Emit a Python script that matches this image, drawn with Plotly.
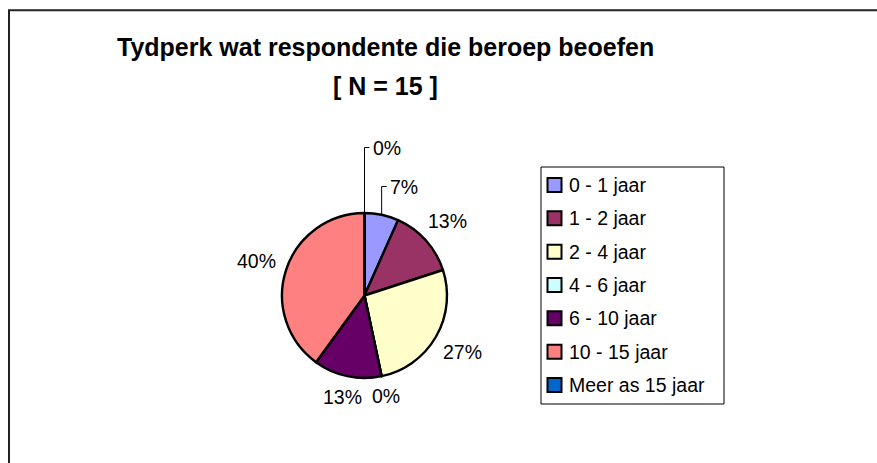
import math
import plotly.graph_objects as go

# ---------------- data ----------------
categories = ["0 - 1 jaar", "1 - 2 jaar", "2 - 4 jaar", "4 - 6 jaar",
              "6 - 10 jaar", "10 - 15 jaar", "Meer as 15 jaar"]
counts = [1, 2, 4, 0, 2, 6, 0]
colors = ["#9999FF", "#993366", "#FFFFCC", "#CCFFFF",
          "#660066", "#FF8080", "#0066CC"]
title_line1 = "Tydperk wat respondente die beroep beoefen"
title_line2 = "[ N = 15 ]"

# ---------------- layout helpers ----------------
W, H = 877, 463


def px(x):
    return x / W


def py(y):
    return 1 - y / H


FONT = "Liberation Sans, Arial, sans-serif"
LABEL_SIZE = 19.5
CX, CY, R = 364.5, 295.5, 82.5          # pie centre / radius in pixels
GAP = 10
leader_y = {0: 186.5, 6: 147.5}         # labels lifted above the pie with leader lines

shapes = []
annotations = []

# pie
pie = go.Pie(
    labels=categories,
    values=counts,
    sort=False,
    direction="clockwise",
    rotation=0,
    marker=dict(colors=colors, line=dict(color="black", width=2.4)),
    textinfo="none",
    hoverinfo="label+value+percent",
    showlegend=False,
    domain=dict(x=[px(CX - R), px(CX + R)], y=[py(CY + R), py(CY - R)]),
)

# data labels
total = sum(counts)
cum = 0.0
for i, v in enumerate(counts):
    frac = v / total
    mid = (cum + frac / 2) * 2 * math.pi
    cum += frac
    text = f"{round(100 * frac)}%"
    s, c = math.sin(mid), math.cos(mid)
    if i in leader_y:
        ex, ey = CX + R * s, CY - R * c
        ly = leader_y[i]
        shapes.append(dict(
            type="path", xref="paper", yref="paper",
            path=f"M {px(ex)} {py(ey)} L {px(ex)} {py(ly)} L {px(ex + 5)} {py(ly)}",
            line=dict(color="black", width=1),
        ))
        annotations.append(dict(
            x=px(ex + 6), y=py(ly), xref="paper", yref="paper",
            text=text, showarrow=False, xanchor="left", yanchor="middle",
            font=dict(family=FONT, size=LABEL_SIZE, color="black"),
        ))
    else:
        w = LABEL_SIZE * (0.556 * (len(text) - 1) + 0.889)
        h = LABEL_SIZE * 0.72
        d = R + GAP + abs(s) * w / 2 + abs(c) * h / 2
        annotations.append(dict(
            x=px(CX + d * s), y=py(CY - d * c), xref="paper", yref="paper",
            text=text, showarrow=False, xanchor="center", yanchor="middle",
            font=dict(family=FONT, size=LABEL_SIZE, color="black"),
        ))

# legend (drawn manually to match row pitch)
LEG_X0, LEG_X1, LEG_Y0, LEG_Y1 = 541, 724, 167, 404
ROW0, PITCH = 185, 33.33
shapes.append(dict(type="rect", xref="paper", yref="paper",
                   x0=px(LEG_X0), x1=px(LEG_X1), y0=py(LEG_Y1), y1=py(LEG_Y0),
                   line=dict(color="black", width=1), fillcolor="rgba(0,0,0,0)"))
for i, (lab, col) in enumerate(zip(categories, colors)):
    yc = ROW0 + i * PITCH
    shapes.append(dict(type="rect", xref="paper", yref="paper",
                       x0=px(547.5), x1=px(561.5), y0=py(yc + 7), y1=py(yc - 7),
                       line=dict(color="black", width=2), fillcolor=col))
    annotations.append(dict(
        x=px(567), y=py(yc), xref="paper", yref="paper", text=lab,
        showarrow=False, xanchor="left", yanchor="middle",
        font=dict(family=FONT, size=LABEL_SIZE, color="black"),
    ))

# chart-area frame (top and left edges)
shapes.append(dict(type="line", xref="paper", yref="paper",
                   x0=px(8), x1=1, y0=py(10.3), y1=py(10.3),
                   line=dict(color="#222222", width=2)))
shapes.append(dict(type="line", xref="paper", yref="paper",
                   x0=px(9), x1=px(9), y0=py(10), y1=0,
                   line=dict(color="#222222", width=2)))

# title lines
for txt, yy in ((title_line1, 47), (title_line2, 86)):
    annotations.append(dict(
        x=px(385), y=py(yy), xref="paper", yref="paper",
        text=f"<b>{txt}</b>", showarrow=False,
        xanchor="center", yanchor="middle",
        font=dict(family=FONT, size=25, color="black"),
    ))

fig = go.Figure(pie)
fig.update_layout(
    width=W, height=H,
    margin=dict(l=0, r=0, t=0, b=0),
    paper_bgcolor="white",
    plot_bgcolor="white",
    shapes=shapes,
    annotations=annotations,
)

fig.write_html("out.html", config={"displayModeBar": False},
               post_script="document.body.style.margin='0';")
